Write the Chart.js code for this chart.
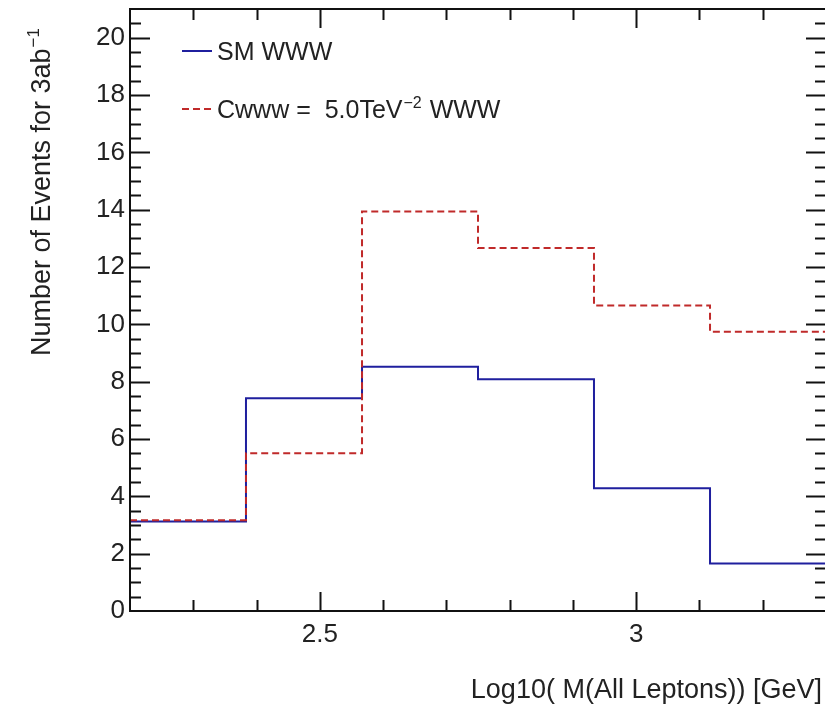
<!DOCTYPE html>
<html>
<head>
<meta charset="utf-8">
<script src="https://cdn.jsdelivr.net/npm/chart.js@4.4.1/dist/chart.umd.min.js"></script>
<style>
  html, body { margin: 0; padding: 0; background: #fff; overflow: hidden; }
  #wrap { width: 830px; height: 704px; }
</style>
</head>
<body>
<div id="wrap"><canvas id="histChart" width="830" height="704"></canvas></div>
<script>
// histogram data (6 bins from 2.2 to 3.3)
const binEdges = [2.2, 2.3833, 2.5667, 2.75, 2.9333, 3.1167, 3.3];
const smValues = [3.12, 7.42, 8.52, 8.08, 4.28, 1.66];
const cwwwValues = [3.17, 5.50, 13.94, 12.66, 10.66, 9.74];

const xMajorTicks = [2.5, 3.0];
const yMajorTicks = [0, 2, 4, 6, 8, 10, 12, 14, 16, 18, 20];

const FONT = "'Liberation Sans', Arial, Helvetica, sans-serif";
const BLUE = '#1f1f9e';
const RED = '#c02a2a';

// histogram outline: left edge of each bin plus the closing edge
function toSteps(values) {
    const pts = values.map((v, i) => ({ x: binEdges[i], y: v }));
    pts.push({ x: binEdges[binEdges.length - 1], y: values[values.length - 1] });
    return pts;
}

// text with a raised exponent, returns end x
function drawSup(ctx, x, y, base, sup, size) {
    ctx.font = size + 'px ' + FONT;
    ctx.fillText(base, x, y);
    let w = ctx.measureText(base).width;
    ctx.font = Math.round(size * 0.62) + 'px ' + FONT;
    ctx.fillText(sup, x + w + 1, y - size * 0.42);
    return x + w + 1 + ctx.measureText(sup).width;
}

const frameTicks = {
    id: 'frameTicks',
    afterDraw(chart) {
        const ctx = chart.ctx;
        const a = chart.chartArea;
        const xs = chart.scales.x, ys = chart.scales.y;
        ctx.save();
        ctx.strokeStyle = '#111';
        ctx.lineWidth = 2;
        ctx.strokeRect(a.left, a.top, a.right - a.left, a.bottom - a.top);

        // y ticks: every 0.5, long every 2
        for (let k = 1; k * 0.5 < ys.max; k++) {
            const v = k * 0.5;
            const py = Math.round(ys.getPixelForValue(v)) + 0.5;
            const len = (k % 4 === 0) ? 20 : 11;
            ctx.beginPath();
            ctx.moveTo(a.left, py); ctx.lineTo(a.left + len, py);
            ctx.moveTo(a.right, py); ctx.lineTo(a.right - len, py);
            ctx.stroke();
        }
        // x ticks: every 0.1, long every 0.5
        for (let k = 23; k < 33; k++) {
            const v = k / 10;
            const px = Math.round(xs.getPixelForValue(v)) + 0.5;
            const len = (k % 5 === 0) ? 19 : 11;
            ctx.beginPath();
            ctx.moveTo(px, a.bottom); ctx.lineTo(px, a.bottom - len);
            ctx.moveTo(px, a.top); ctx.lineTo(px, a.top + len);
            ctx.stroke();
        }

        // legend
        ctx.fillStyle = '#222';
        const items = [
            { ds: chart.data.datasets[1], y: 51 },
            { ds: chart.data.datasets[0], y: 109 }
        ];
        items.forEach(it => {
            ctx.strokeStyle = it.ds.borderColor;
            ctx.lineWidth = 2;
            ctx.setLineDash(it.ds.borderDash || []);
            ctx.beginPath();
            ctx.moveTo(182, it.y); ctx.lineTo(212, it.y);
            ctx.stroke();
        });
        ctx.setLineDash([]);
        ctx.textBaseline = 'alphabetic';
        ctx.font = '25px ' + FONT;
        ctx.fillText('SM WWW', 217, 60);
        let ex = drawSup(ctx, 217, 118, 'Cwww =  5.0TeV', '\u22122', 25);
        ctx.font = '25px ' + FONT;
        ctx.fillText(' WWW', ex + 1, 118);

        // x title, right aligned
        ctx.font = '27px ' + FONT;
        ctx.textAlign = 'right';
        ctx.fillText('Log10( M(All Leptons)) [GeV]', 822, 698);

        // y title, rotated, top aligned
        ctx.translate(50, 28);
        ctx.rotate(-Math.PI / 2);
        ctx.textAlign = 'left';
        ctx.font = '27px ' + FONT;
        const baseW = ctx.measureText('Number of Events for 3ab').width;
        ctx.font = '17px ' + FONT;
        const supW = ctx.measureText('\u22121').width;
        drawSup(ctx, -(baseW + supW + 1), 0, 'Number of Events for 3ab', '\u22121', 27);
        ctx.restore();
    }
};

new Chart(document.getElementById('histChart'), {
    type: 'line',
    data: {
        datasets: [
            {
                label: 'Cwww = 5.0TeV-2 WWW',
                data: toSteps(cwwwValues),
                borderColor: RED,
                borderWidth: 2,
                borderDash: [7, 4],
                stepped: true,
                pointRadius: 0,
                fill: false
            },
            {
                label: 'SM WWW',
                data: toSteps(smValues),
                borderColor: BLUE,
                borderWidth: 2,
                stepped: true,
                pointRadius: 0,
                fill: false
            }
        ]
    },
    options: {
        responsive: false,
        animation: false,
        devicePixelRatio: 1,
        layout: { padding: { top: 9, right: 4, left: 0, bottom: 0 } },
        plugins: { legend: { display: false }, tooltip: { enabled: false } },
        scales: {
            x: {
                type: 'linear',
                min: 2.2,
                max: 3.3,
                afterBuildTicks: s => { s.ticks = xMajorTicks.map(v => ({ value: v })); },
                afterFit: s => { s.height = 93; s.paddingLeft = 0; s.paddingRight = 0; },
                grid: { drawOnChartArea: false, drawTicks: false },
                border: { display: true, color: '#111', width: 2 },
                ticks: {
                    padding: 8,
                    maxRotation: 0,
                    color: '#222',
                    font: { family: FONT, size: 26 },
                    callback: v => String(v)
                }
            },
            y: {
                min: 0,
                max: 21,
                afterBuildTicks: s => { s.ticks = yMajorTicks.map(v => ({ value: v })); },
                afterFit: s => { s.width = 130; s.paddingTop = 0; s.paddingBottom = 0; },
                grid: { drawOnChartArea: false, drawTicks: false },
                border: { display: true, color: '#111', width: 2 },
                ticks: {
                    padding: 5,
                    color: '#222',
                    font: { family: FONT, size: 26 },
                    callback: v => String(v)
                }
            }
        }
    },
    plugins: [frameTicks]
});
</script>
</body>
</html>
